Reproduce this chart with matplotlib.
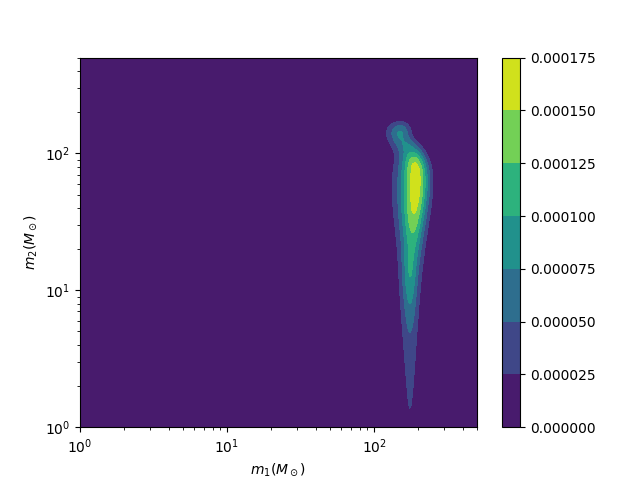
import numpy as np
import matplotlib
matplotlib.use("Agg")
import matplotlib.pyplot as plt

# Density model: Gaussian components in linear (m1, m2) space
comp_m1 = [174, 180, 187, 192, 193, 192, 186, 170, 150]
comp_m2 = [11, 22, 36, 50, 64, 79, 95, 114, 141]
comp_s1 = [14, 21, 27, 31, 31, 29, 24, 20, 19]
comp_s2 = [6, 11, 12, 12, 12, 12, 13, 12, 20]
comp_amp = [0.50e-4, 0.60e-4, 0.80e-4, 0.78e-4, 0.78e-4, 0.86e-4, 0.75e-4, 0.40e-4, 0.76e-4]

levels = [0.0, 0.000025, 0.00005, 0.000075, 0.0001, 0.000125, 0.00015, 0.000175]
x_lim = (1, 500)
y_lim = (1, 500)

m1 = np.logspace(np.log10(x_lim[0]), np.log10(x_lim[1]), 600)
m2 = np.logspace(np.log10(y_lim[0]), np.log10(y_lim[1]), 600)
M1, M2 = np.meshgrid(m1, m2)
Z = np.zeros_like(M1)
for cx, cy, sx, sy, a in zip(comp_m1, comp_m2, comp_s1, comp_s2, comp_amp):
    Z += a * np.exp(-0.5 * (((M1 - cx) / sx) ** 2 + ((M2 - cy) / sy) ** 2))
Z = np.clip(Z, 0, levels[-1] * 0.999)

fig, ax = plt.subplots(figsize=(6.4, 4.8), dpi=100)
cs = ax.contourf(M1, M2, Z, levels=levels, cmap="viridis")
ax.set_xscale("log")
ax.set_yscale("log")
ax.set_xlim(*x_lim)
ax.set_ylim(*y_lim)
ax.set_xlabel(r"$m_1 (M_\odot)$")
ax.set_ylabel(r"$m_2 (M_\odot)$")
fig.colorbar(cs, ax=ax)
fig.savefig("out.png", dpi=100)
